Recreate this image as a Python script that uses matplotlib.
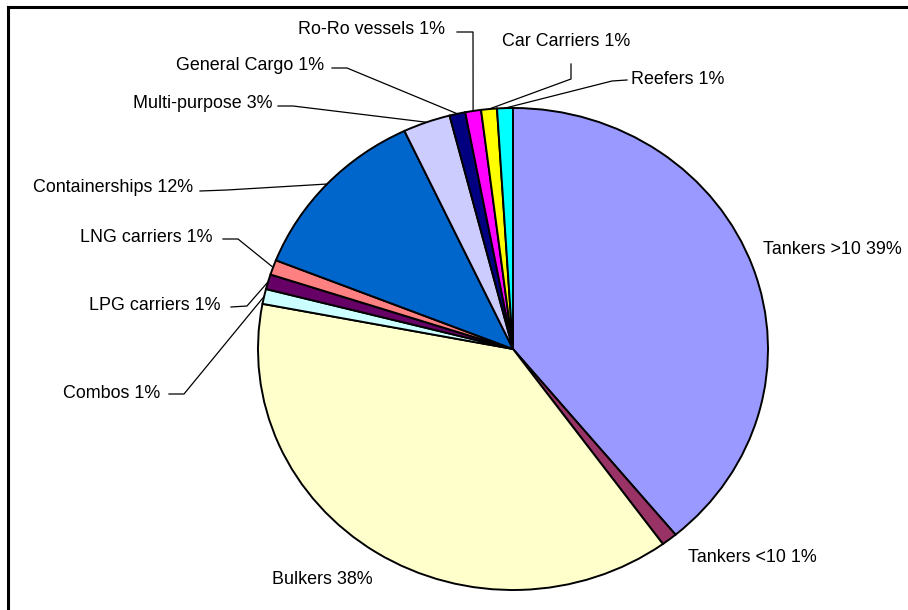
import numpy as np
import matplotlib
matplotlib.use("Agg")
import matplotlib.pyplot as plt

# fleet composition by ship type (share of total, %)
ship_types = ["Tankers >10", "Tankers <10", "Bulkers", "Combos", "LPG carriers",
              "LNG carriers", "Containerships", "Multi-purpose", "General Cargo",
              "Ro-Ro vessels", "Car Carriers", "Reefers"]
shares = [39, 1, 38, 1, 1, 1, 12, 3, 1, 1, 1, 1]
colors = ["#9999FF", "#993366", "#FFFFCC", "#CCFFFF", "#660066", "#FF8080",
          "#0066CC", "#CCCCFF", "#000080", "#FF00FF", "#FFFF00", "#00FFFF"]

W, H = 908, 610
cx, cy, rx, ry = 513, 349, 255, 241   # pie ellipse, pixels from top-left

# label anchor (left, baseline) and leader knee points, in pixels
label_xy = [(763, 255), (688, 563), (272, 586), (63, 399), (89, 311), (80, 243),
            (33, 194), (133, 110), (176, 72), (298, 36), (502, 47), (631, 85)]
leaders = [None, None, None,
           [(169, 394), (184, 394)],
           [(231, 307), (247, 306)],
           [(223, 239), (238, 239)],
           [(200, 191), (227, 190)],
           [(278, 106), (293, 106)],
           [(332, 68), (347, 68)],
           [(457, 32), (473, 32)],
           [(571, 64), (571, 79)],
           [(627, 80), (612, 81)]]

fig = plt.figure(figsize=(W / 100, H / 100), dpi=100)
bg = fig.add_axes([0, 0, 1, 1])
bg.set_xlim(0, W)
bg.set_ylim(H, 0)
bg.axis("off")

pie_ax = fig.add_axes([(cx - rx) / W, (H - cy - ry) / H, 2 * rx / W, 2 * ry / H])
wedges, _ = pie_ax.pie(shares, colors=colors, startangle=90, counterclock=False,
                       radius=1, wedgeprops=dict(edgecolor="black", linewidth=1.4))
pie_ax.set_aspect("auto")
pie_ax.set_xlim(-1, 1)
pie_ax.set_ylim(-1, 1)
pie_ax.axis("off")
for w in wedges:
    w.set_clip_on(False)

font = dict(family=["Liberation Sans", "DejaVu Sans"], fontsize=12.9, color="black")

to_bg = bg.transData.inverted()
for name, share, w, (tx, ty), lead in zip(ship_types, shares, wedges, label_xy, leaders):
    bg.text(tx, ty - 1.5, f"{name} {share}%", ha="left", va="baseline", **font)
    if lead is None:
        continue
    mid = np.deg2rad((w.theta1 + w.theta2) / 2)
    ex, ey = to_bg.transform(pie_ax.transData.transform((np.cos(mid), np.sin(mid))))
    xs = [p[0] for p in lead] + [ex]
    ys = [p[1] for p in lead] + [ey]
    bg.plot(xs, ys, color="black", lw=0.9)

# frame lines along top and left
bg.plot([8, 8], [H, 7], color="black", lw=2.2, solid_capstyle="projecting")
bg.plot([8, W], [7, 7], color="black", lw=2.2, solid_capstyle="projecting")

fig.savefig("out.png", dpi=100)
